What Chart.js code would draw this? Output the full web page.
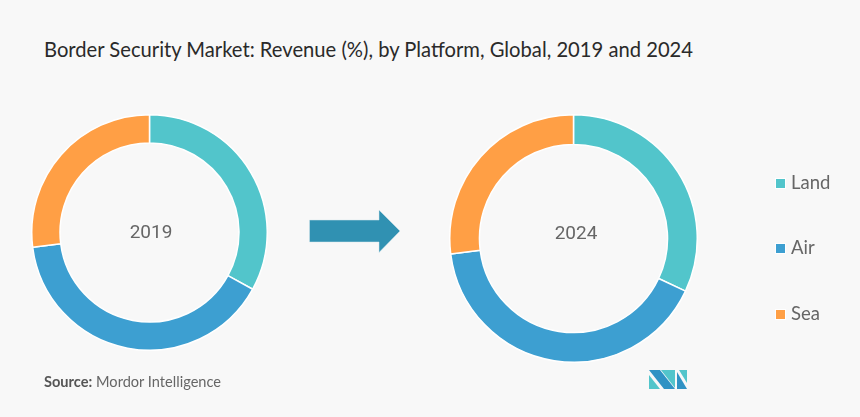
<!DOCTYPE html>
<html>
<head>
<meta charset="utf-8">
<script src="https://cdn.jsdelivr.net/npm/chart.js@4"></script>
<style>
  html, body { margin: 0; padding: 0; }
  body { width: 860px; height: 417px; background: #f8f8f8; position: relative; overflow: hidden; font-family: Lato, sans-serif; }
  canvas { position: absolute; }
  .txt { position: absolute; white-space: nowrap; line-height: 1; }
  #title { left: 44px; top: 39px; font-size: 20.2px; color: #2a2a2a; }
  .year { font-family: Roboto, sans-serif; font-size: 19px; color: #666; transform: translate(-50%, -50%); }
  #source { left: 44px; top: 375px; font-size: 14.6px; color: #666; }
  #source b { color: #555; }
  .swatch { position: absolute; left: 775px; width: 9px; height: 9px; border: 1px solid #fff; }
  .legend { left: 791px; font-size: 18.5px; color: #666; }
  svg { position: absolute; left: 0; top: 0; }
</style>
</head>
<body>
<div class="txt" id="title">Border Security Market: Revenue (%), by Platform, Global, 2019 and 2024</div>

<canvas id="chart2019" style="left:30.5px;top:114px"></canvas>
<canvas id="chart2024" style="left:448.5px;top:114px"></canvas>
<div class="txt year" style="left:151px;top:231px">2019</div>
<div class="txt year" style="left:576px;top:232px">2024</div>

<svg width="860" height="417">
  <polygon points="309.5,220 379,220 379,210 400,231 379,252.5 379,242 309.5,242" fill="#3091b2" stroke="#d8e8ee" stroke-width="0.5"/>
  <polygon points="649,370 660,370 675,389 664,389" fill="#2f92c4"/>
  <polygon points="649,375 660,389 649,389" fill="#52c5cb"/>
  <polygon points="661,370 675,370 675,388" fill="#52c5cb"/>
  <polygon points="677,372 687,389 677,389" fill="#2f92c4"/>
  <polygon points="679,370 687,370 687,383" fill="#52c5cb"/>
</svg>

<div id="legend"></div>
<div class="txt" id="source"><b>Source:</b> Mordor Intelligence</div>

<script>
const categories = ["Land", "Air", "Sea"];
const values2019 = [33, 40, 27];
const values2024 = [32, 41, 27];
const colors = ["#52c5cb", "#3d9fd1", "#ff9f45"];
const legendTops = [178, 243, 309];

function donut(id, size, values, cutout) {
  const el = document.getElementById(id);
  el.width = size;
  el.height = size;
  return new Chart(el, {
    type: "doughnut",
    data: {
      labels: categories,
      datasets: [{ data: values, backgroundColor: colors, borderColor: "#ffffff", borderWidth: 1.5 }]
    },
    options: {
      responsive: false,
      animation: false,
      cutout: cutout,
      plugins: { legend: { display: false }, tooltip: { enabled: false } }
    }
  });
}

donut("chart2019", 237, values2019, "76%");
donut("chart2024", 249, values2024, "76%");

const legend = document.getElementById("legend");
categories.forEach(function (name, i) {
  const sw = document.createElement("div");
  sw.className = "swatch";
  sw.style.top = legendTops[i] + "px";
  sw.style.background = colors[i];
  legend.appendChild(sw);
  const t = document.createElement("div");
  t.className = "txt legend";
  t.style.top = (legendTops[i] - 5) + "px";
  t.textContent = name;
  legend.appendChild(t);
});
</script>
</body>
</html>
